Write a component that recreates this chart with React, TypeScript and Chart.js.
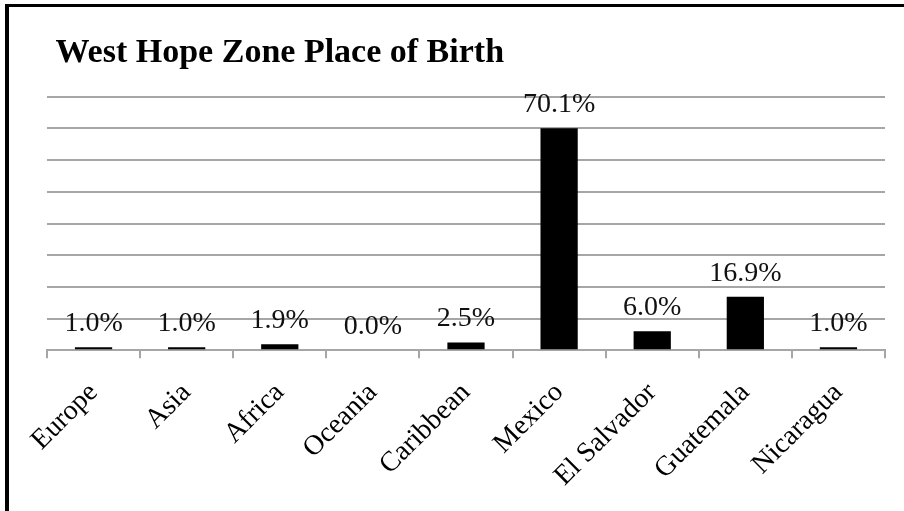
import React, { useEffect, useRef } from "react";
import { Chart, registerables } from "chart.js";

Chart.register(...registerables);

const categories = [
  "Europe",
  "Asia",
  "Africa",
  "Oceania",
  "Caribbean",
  "Mexico",
  "El Salvador",
  "Guatemala",
  "Nicaragua",
];
const percentValues = [1.0, 1.0, 1.9, 0.0, 2.5, 70.1, 6.0, 16.9, 1.0];
const yAxisRange = [0, 80];
const yAxisStep = 10;
const chartTitle = " West Hope Zone Place of Birth";

const GRID = "#a6a6a6";
const SERIF = '"Liberation Serif", "Times New Roman", serif';

const dataLabelPlugin = {
  id: "barValueLabels",
  afterDatasetsDraw(chart: any) {
    const ctx = chart.ctx;
    const meta = chart.getDatasetMeta(0);
    const data = chart.data.datasets[0].data as number[];
    ctx.save();
    ctx.font = `28px ${SERIF}`;
    ctx.fillStyle = "#111";
    ctx.textAlign = "center";
    ctx.textBaseline = "alphabetic";
    meta.data.forEach((bar: any, i: number) => {
      ctx.fillText(data[i].toFixed(1) + "%", bar.x, bar.y - 16);
    });
    ctx.restore();
  },
};

export default function App() {
  const canvasRef = useRef<HTMLCanvasElement | null>(null);

  useEffect(() => {
    document.body.style.margin = "0";
    const canvas = canvasRef.current;
    if (!canvas) return;
    const chart = new Chart(canvas, {
      type: "bar",
      data: {
        labels: categories,
        datasets: [
          {
            data: percentValues,
            backgroundColor: "#000",
            borderWidth: 0,
            barPercentage: 0.4,
            categoryPercentage: 1,
          },
        ],
      },
      plugins: [dataLabelPlugin],
      options: {
        responsive: false,
        animation: false,
        devicePixelRatio: 1,
        layout: { padding: { left: 47, right: 19, top: 0, bottom: 0 } },
        plugins: {
          legend: { display: false },
          tooltip: { enabled: false },
          title: {
            display: true,
            text: chartTitle,
            align: "start",
            color: "#000",
            font: { family: SERIF, size: 34, weight: "bold" },
            padding: { top: 33, bottom: 23 },
          },
        },
        scales: {
          x: {
            offset: true,
            grid: {
              offset: true,
              drawOnChartArea: false,
              drawTicks: true,
              tickLength: 8,
              color: GRID,
              lineWidth: 2,
            },
            border: { display: true, color: GRID, width: 2 },
            ticks: {
              color: "#000",
              font: { family: SERIF, size: 28 },
              maxRotation: 45,
              minRotation: 45,
              padding: 18,
              autoSkip: false,
            },
          },
          y: {
            min: yAxisRange[0],
            max: yAxisRange[1],
            grid: { color: GRID, lineWidth: 2, drawTicks: false },
            border: { display: false },
            ticks: { display: false, stepSize: yAxisStep },
          },
        },
      },
    });
    return () => chart.destroy();
  }, []);

  return (
    <div style={{ position: "relative", width: 904, height: 511, overflow: "hidden" }}>
      <canvas ref={canvasRef} width={904} height={511} style={{ display: "block" }} />
      <div
        style={{
          position: "absolute",
          left: 5,
          top: 4,
          width: 920,
          height: 520,
          borderLeft: "4px solid #000",
          borderTop: "3px solid #000",
          pointerEvents: "none",
        }}
      />
    </div>
  );
}
